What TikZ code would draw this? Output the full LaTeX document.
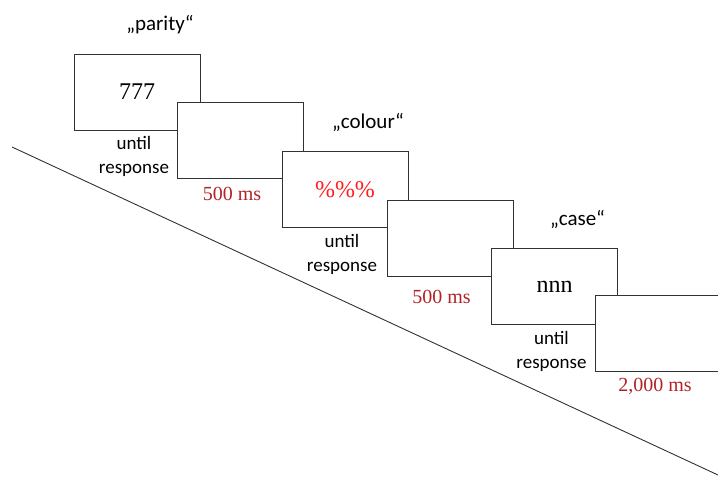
\documentclass[tikz,border=0pt]{standalone}
\usepackage{fontspec}
\setmainfont{Liberation Serif}
\newfontfamily\calibri{Carlito}
\usetikzlibrary{positioning}

\definecolor{framegray}{RGB}{50,50,50}
\definecolor{delayred}{RGB}{176,36,40}
\definecolor{stimred}{RGB}{255,30,30}

\tikzset{
  screen/.style={draw=framegray, line width=0.9pt, fill=white, minimum width=126pt,
    minimum height=76pt, inner sep=0pt, font=\fontsize{24}{28}\selectfont},
  task/.style={font=\calibri\fontsize{21}{24}\selectfont},
  until/.style={font=\calibri\fontsize{19}{24}\selectfont, align=center, anchor=north, inner sep=0pt},
  delay/.style={text=delayred, font=\fontsize{20}{24}\selectfont, anchor=north, inner sep=0pt}
}

\begin{document}
\begin{tikzpicture}[x=1pt, y=-1pt]
  \useasboundingbox (0,0) rectangle (718,478);

  % time axis
  \coordinate (tstart) at (12,147);
  \coordinate (tend) at (718,475);
  \draw[framegray, line width=0.9pt] (tstart) -- (tend);

  % screens
  \node[screen] (s1) at (137,92) {777};
  \node[screen] (s2) at (240.5,140.5) {};
  \node[screen, text=stimred] (s3) at (345,189.5) {\%\%\%};
  \node[screen] (s4) at (450,238) {};
  \node[screen] (s5) at (554.5,286.5) {nnn};
  \node[screen] (s6) at (658,333.5) {};

  % task cues
  \node[task] (t1) at ([xshift=23pt,yshift=29pt]s1.north) {„parity“};
  \node[task] (t3) at ([xshift=23pt,yshift=29pt]s3.north) {„colour“};
  \node[task] (t5) at ([xshift=23pt,yshift=29pt]s5.north) {„case“};

  % durations
  \node[until] (u1) at ([xshift=-3pt,yshift=-6pt]s1.south) {until\\response};
  \node[until] (u3) at ([xshift=-3pt,yshift=-6pt]s3.south) {until\\response};
  \node[until] (u5) at ([xshift=-3pt,yshift=-6pt]s5.south) {until\\response};
  \node[delay] (d2) at ([xshift=-8.5pt,yshift=-8pt]s2.south) {500 ms};
  \node[delay] (d4) at ([xshift=-8.5pt,yshift=-14pt]s4.south) {500 ms};
  \node[delay] (d6) at ([xshift=-3pt,yshift=-6pt]s6.south) {2,000 ms};
\end{tikzpicture}
\end{document}
